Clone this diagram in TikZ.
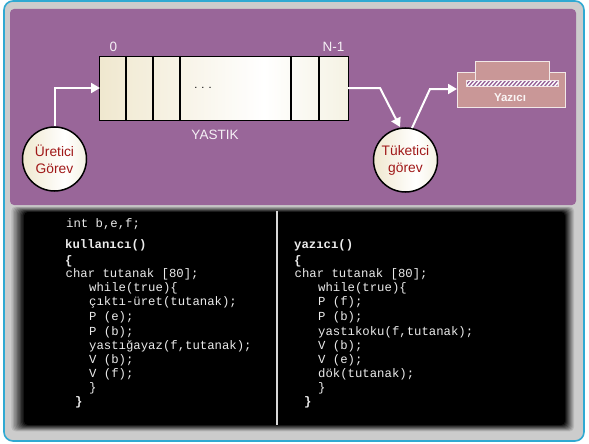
\documentclass[tikz,border=0pt]{standalone}
\usepackage{fontspec}
\setmainfont{Liberation Sans}
\setmonofont{Liberation Mono}
\usetikzlibrary{arrows.meta}
\definecolor{frameline}{HTML}{2FA9D2}
\definecolor{framefill}{HTML}{CCCCCC}
\definecolor{purplepanel}{HTML}{996699}
\definecolor{prfill}{HTML}{C99797}
\definecolor{prline}{HTML}{F2E8E8}
\definecolor{labred}{HTML}{A01818}
\definecolor{cream1}{HTML}{F0E8CF}
\definecolor{cream2}{HTML}{F5F2E3}
\definecolor{cream3}{HTML}{E4DFBE}
\pgfdeclarehorizontalshading{cream}{100bp}{color(0bp)=(cream1); color(25bp)=(cream1); color(58bp)=(white); color(75bp)=(cream2); color(100bp)=(cream3)}
\tikzset{
  x=1pt,y=-1pt,
  lab/.style={text=white!90!purplepanel,font=\fontsize{13.5}{15}\selectfont,inner sep=0pt},
  tasknode/.style={circle,draw=black,line width=1.5pt,minimum size=64pt,inner sep=0pt,shading=cream,
     text=labred,align=center,font=\fontsize{13.8}{17}\selectfont},
  wire/.style={white,line width=2pt},
  wirearrow/.style={wire,-{Triangle[length=9pt,width=10pt]}},
  divider/.style={black,line width=1.4pt},
  code/.style={anchor=west,inner sep=0pt,text=white!92!black,font=\ttfamily\fontsize{12.3}{14}\selectfont},
  codeb/.style={code,font=\ttfamily\bfseries\fontsize{12.3}{14}\selectfont},
  prbox/.style={draw=prline,fill=prfill,line width=1pt},
}
\begin{document}
\begin{tikzpicture}
\useasboundingbox (0,0) rectangle (589,444);
\fill[white] (0,0) rectangle (589,444);
% frame
\draw[frameline,fill=framefill,line width=1.6pt,rounded corners=9pt] (4,1) rectangle (584,441);
% soft-edged code panel
\foreach \i in {0,...,10}{
  \pgfmathsetmacro{\p}{\i*10}
  \fill[black!\p!framefill,rounded corners=4pt] ({10+1.4*\i},{206+0.6*\i}) rectangle ({575-1*\i},{432-0.7*\i});
}
% purple panel
\fill[purplepanel,rounded corners=4pt] (10,9) rectangle (576,205);
% buffer
\node[draw=black,line width=1.4pt,shading=cream,minimum width=249pt,minimum height=64pt,inner sep=0pt,anchor=north west] (buf) at (99,56) {};
\foreach \x in {126,153,180,291,319}{
  \draw[divider] (\x,56) -- (\x,120);
}
\node[inner sep=0pt,font=\fontsize{11}{13}\selectfont] (dots) at (203,88) {. . .};
\node[lab] (zero) at (113.5,46.5) {0};
\node[lab] (nm) at (333.5,46.5) {N-1};
\node[lab] (yas) at (215,135) {YASTIK};
% tasks
\node[tasknode] (ur) at (54.5,159) {Üretici\\Görev};
\node[tasknode] (tu) at (405.5,160) {Tüketici\\görev};
% printer
\node[prbox,minimum width=108pt,minimum height=35pt,inner sep=0pt,anchor=north west] (pr) at (457,72) {};
\node[prbox,minimum width=74pt,minimum height=19pt,inner sep=0pt,anchor=north west] (prtop) at (475,61) {};
\fill[white] (466.5,80) rectangle (558,86);
\begin{scope}
  \clip (467,81) rectangle (557.5,85.5);
  \foreach \x in {460,464,...,560}{
    \draw[purplepanel,line width=1.4pt] (\x,87) -- (\x+7,79);
  }
\end{scope}
\draw[prline,line width=.8pt] (466.5,80) rectangle (558,86);
\node[inner sep=0pt,text=white!90!prfill,font=\bfseries\fontsize{11.5}{13}\selectfont] (yz) at (510,97.5) {Yazıcı};
% connectors
\coordinate (bufin) at (100,88);
\coordinate (bufout) at (348,88);
\coordinate (bend1) at (380,88);
\coordinate (tuin) at (400,127);
\coordinate (tuout) at (412,128);
\coordinate (bend2) at (430,89);
\coordinate (prin) at (457,89);
\draw[wirearrow] (ur.north) |- (bufin);
\draw[wirearrow] (bufout) -- (bend1) -- (tuin);
\draw[wirearrow] (tuout) -- (bend2) -- (prin);
% code
\draw[white!85!black,line width=1.2pt] (277,211) coordinate (sa) -- (277,425) coordinate (sb);
\node[code] (c0) at (66,224) {int b,e,f;};
\node[codeb] (l1) at (65,245) {kullanıcı()};
\node[codeb] (l2) at (65,261) {\{};
\node[code] (l3) at (65.5,274) {char tutanak [80];};
\node[code] (l4) at (89,288) {while(true)\{};
\node[code] (l5) at (89,302) {çıktı-üret(tutanak);};
\node[code] (l6) at (89,317) {P (e);};
\node[code] (l7) at (89,332) {P (b);};
\node[code] (l8) at (89,346) {yastığayaz(f,tutanak);};
\node[code] (l9) at (89,360) {V (b);};
\node[code] (l10) at (89,374) {V (f);};
\node[code] (l11) at (89,388) {\}};
\node[codeb] (l12) at (75,402) {\}};
\node[codeb] (r1) at (294,245) {yazıcı()};
\node[codeb] (r2) at (294,261) {\{};
\node[code] (r3) at (294.5,274) {char tutanak [80];};
\node[code] (r4) at (318,288) {while(true)\{};
\node[code] (r5) at (318,302) {P (f);};
\node[code] (r6) at (318,317) {P (b);};
\node[code] (r7) at (318,332) {yastıkoku(f,tutanak);};
\node[code] (r8) at (318,346) {V (b);};
\node[code] (r9) at (318,360) {V (e);};
\node[code] (r10) at (318,374) {dök(tutanak);};
\node[code] (r11) at (318,388) {\}};
\node[codeb] (r12) at (304,402) {\}};
\end{tikzpicture}
\end{document}
